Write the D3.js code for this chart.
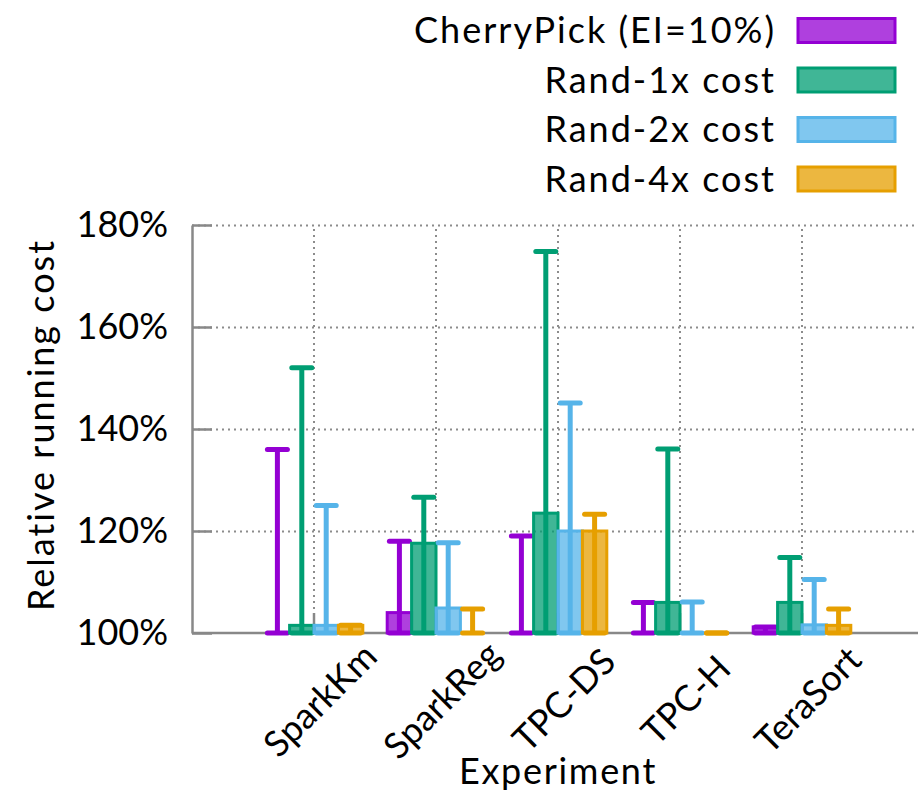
<!DOCTYPE html>
<html>
<head>
<meta charset="utf-8">
<script src="https://cdn.jsdelivr.net/npm/d3@7"></script>
<style>
  html, body { margin: 0; padding: 0; background: #fff; }
  svg { display: block; font-family: Lato, "Open Sans", sans-serif; }
</style>
</head>
<body>
<svg id="chart" width="918" height="795"></svg>
<script>
// Experiments on the x axis
const categories = ["SparkKm", "SparkReg", "TPC-DS", "TPC-H", "TeraSort"];
const seriesNames = ["CherryPick (EI=10%)", "Rand-1x cost", "Rand-2x cost", "Rand-4x cost"];
const seriesColors = ["#9400d3", "#009e73", "#56b4e9", "#e69f00"];

// Bar values (relative running cost, %)
const cherryPick = [100, 104, 100, 100, 101.2];
const rand1x     = [101.5, 117.6, 123.5, 106, 106];
const rand2x     = [101.5, 104.9, 120, 100, 101.6];
const rand4x     = [101.5, 100, 120, 100, 101.5];

// Error bar lower bounds (%)
const cherryPickLow = [100, 100, 100, 100, 100];
const rand1xLow     = [100, 100, 100, 100, 100];
const rand2xLow     = [100, 100, 100, 100, 100];
const rand4xLow     = [100, 100, 100, 100, 100];

// Error bar upper bounds (%)
const cherryPickHigh = [136, 118, 119, 106, 101.2];
const rand1xHigh     = [152, 126.6, 174.8, 136.1, 114.8];
const rand2xHigh     = [125, 117.7, 145.1, 106.1, 110.5];
const rand4xHigh     = [101.5, 104.7, 123.3, 100, 104.7];

const yTicks = [100, 120, 140, 160, 180];

const values = [cherryPick, rand1x, rand2x, rand4x];
const lows = [cherryPickLow, rand1xLow, rand2xLow, rand4xLow];
const highs = [cherryPickHigh, rand1xHigh, rand2xHigh, rand4xHigh];

const W = 918, H = 795;
const plotLeft = 192, plotBottom = 633, plotTop = 225;
const groupStep = 122;

const svg = d3.select("#chart");

const x = d3.scaleBand()
  .domain(categories)
  .range([plotLeft + groupStep / 2, plotLeft + groupStep / 2 + groupStep * categories.length])
  .paddingInner(0).paddingOuter(0);

const xSub = d3.scaleBand()
  .domain(seriesNames)
  .range([0, x.bandwidth()])
  .paddingInner(0).paddingOuter(0.5);

const y = d3.scaleLinear().domain([100, 180]).range([plotBottom, plotTop]);

const gridColor = "#8c8c8c";
const axisColor = "#888";

// Horizontal dotted grid
svg.append("g")
  .attr("transform", `translate(${plotLeft},0)`)
  .call(d3.axisLeft(y).tickValues(yTicks.slice(1)).tickSize(-(W - plotLeft)).tickFormat(""))
  .call(g => g.select(".domain").remove())
  .call(g => g.selectAll("line").attr("stroke", gridColor).attr("stroke-width", 2).attr("stroke-dasharray", "2,4"));

// Vertical dotted grid at experiment centers
svg.append("g")
  .attr("transform", `translate(0,${plotBottom})`)
  .call(d3.axisBottom(x).tickSize(-(plotBottom - plotTop)).tickFormat(""))
  .call(g => g.select(".domain").remove())
  .call(g => g.selectAll("line").attr("stroke", gridColor).attr("stroke-width", 2).attr("stroke-dasharray", "2,4"));

// Bottom axis line
svg.append("line")
  .attr("x1", plotLeft).attr("x2", W)
  .attr("y1", y(100)).attr("y2", y(100))
  .attr("stroke", axisColor).attr("stroke-width", 2.5);

// Y axis with inward ticks
svg.append("g")
  .attr("transform", `translate(${plotLeft},0)`)
  .call(d3.axisLeft(y).tickValues(yTicks).tickFormat(d => d + "%").tickSizeInner(-20).tickSizeOuter(0).tickPadding(24))
  .call(g => g.select(".domain").attr("stroke", axisColor).attr("stroke-width", 2.5))
  .call(g => g.selectAll(".tick line").attr("stroke", axisColor).attr("stroke-width", 2.5))
  .call(g => g.selectAll(".tick text").attr("fill", "#000").attr("font-size", 36).attr("font-family", "Lato, sans-serif"));

// X axis with inward ticks and rotated labels
svg.append("g")
  .attr("transform", `translate(0,${plotBottom})`)
  .call(d3.axisBottom(x).tickSizeInner(-20).tickSizeOuter(0).tickPadding(0))
  .call(g => g.select(".domain").remove())
  .call(g => g.selectAll(".tick line").attr("stroke", axisColor).attr("stroke-width", 2.5))
  .call(g => g.selectAll(".tick text")
    .attr("fill", "#000").attr("font-size", 36).attr("font-family", "Lato, sans-serif")
    .attr("text-anchor", "middle").attr("y", 0).attr("dy", "0.35em")
    .attr("transform", "translate(6,67) rotate(-45)"));

// Bars with error bars, one series at a time
const capHalf = 10;
seriesNames.forEach((name, si) => {
  const color = seriesColors[si];
  const g = svg.append("g");
  const rows = categories.map((c, i) => ({ c, v: values[si][i], lo: lows[si][i], hi: highs[si][i] }));
  const bx = d => x(d.c) + xSub(name);
  const cx = d => bx(d) + xSub.bandwidth() / 2;

  g.selectAll("rect").data(rows.filter(d => d.v > 100)).join("rect")
    .attr("x", bx)
    .attr("y", d => y(d.v))
    .attr("width", xSub.bandwidth())
    .attr("height", d => y(100) - y(d.v))
    .attr("fill", color).attr("fill-opacity", 0.75)
    .attr("stroke", color).attr("stroke-width", 3);

  g.selectAll("line.err").data(rows).join("line").attr("class", "err")
    .attr("x1", cx).attr("x2", cx)
    .attr("y1", d => y(d.lo)).attr("y2", d => y(d.hi))
    .attr("stroke", color).attr("stroke-width", 5);

  ["lo", "hi"].forEach(k => {
    g.selectAll("line.cap-" + k).data(rows).join("line").attr("class", "cap-" + k)
      .attr("x1", d => cx(d) - capHalf).attr("x2", d => cx(d) + capHalf)
      .attr("y1", d => y(d[k])).attr("y2", d => y(d[k]))
      .attr("stroke", color).attr("stroke-width", 5).attr("stroke-linecap", "round");
  });
});

// Axis titles
svg.append("text")
  .attr("transform", "translate(54,425) rotate(-90)")
  .attr("text-anchor", "middle")
  .attr("font-size", 36).attr("letter-spacing", 2).attr("fill", "#000")
  .text("Relative running cost");

svg.append("text")
  .attr("x", x("TPC-DS") + x.bandwidth() / 2).attr("y", 784)
  .attr("text-anchor", "middle")
  .attr("font-size", 36).attr("letter-spacing", 1.7).attr("fill", "#000")
  .text("Experiment");

// Legend
const legendRowY = d3.scalePoint().domain(seriesNames).range([30.5, 179]);
const legend = svg.append("g");
seriesNames.forEach((name, si) => {
  const cy = legendRowY(name);
  legend.append("text")
    .attr("x", 776).attr("y", cy).attr("dy", "0.36em")
    .attr("text-anchor", "end").attr("font-size", 36).attr("letter-spacing", 2).attr("fill", "#000")
    .text(name);
  legend.append("rect")
    .attr("x", 798).attr("y", cy - 12).attr("width", 97).attr("height", 24)
    .attr("fill", seriesColors[si]).attr("fill-opacity", 0.75)
    .attr("stroke", seriesColors[si]).attr("stroke-width", 3);
});
</script>
</body>
</html>
